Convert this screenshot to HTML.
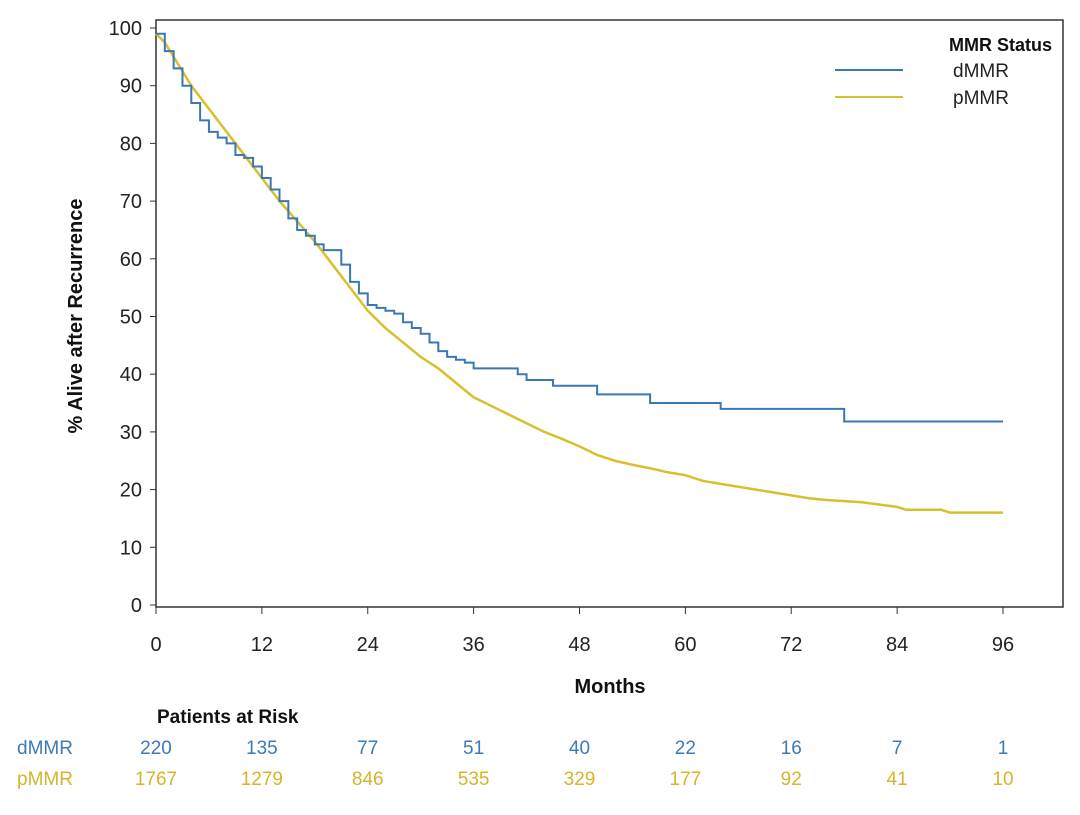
<!DOCTYPE html>
<html><head><meta charset="utf-8"><style>
body{margin:0;background:#fff;}
svg text{font-family:"Liberation Sans",sans-serif;}
</style></head><body>
<svg id="c" width="1080" height="810"></svg>
<script>
const ticksX=[0,12,24,36,48,60,72,84,96];
const ticksY=[0,10,20,30,40,50,60,70,80,90,100];
const dT=[0,1,2,3,4,5,6,7,8,9,10,11,12,13,14,15,16,17,18,19,20,21,22,23,24,25,26,27,28,29,30,31,32,33,34,35,36,40,41,42,44,45,48,50,54,56,64,78,96];
const dS=[99,96,93,90,87,84,82,81,80,78,77.5,76,74,72,70,67,65,64,62.5,61.5,61.5,59,56,54,52,51.5,51,50.5,49,48,47,45.5,44,43,42.5,42,41,41,40,39,39,38,38,36.5,36.5,35,34,31.8,31.8];
const pT=[0,1,2,4,6,8,10,12,14,16,18,20,22,24,26,28,30,32,34,36,38,40,42,44,46,48,50,52,54,56,58,60,62,64,66,68,70,72,74,76,80,84,85,89,90,96];
const pS=[99,97.5,95,90,86,82,78,74,70,66.5,63,59,55,51,48,45.5,43,41,38.5,36,34.5,33,31.5,30,28.8,27.5,26,25,24.3,23.7,23,22.5,21.5,21,20.5,20,19.5,19,18.5,18.2,17.8,17,16.5,16.5,16,16];
const riskD=[220,135,77,51,40,22,16,7,1];
const riskP=[1767,1279,846,535,329,177,92,41,10];
const NS="http://www.w3.org/2000/svg",svg=document.getElementById('c');
const X=m=>156+m*(1003-156)/96, Y=v=>605-v*5.77;
function el(t,a,txt){const e=document.createElementNS(NS,t);for(const k in a)e.setAttribute(k,a[k]);if(txt!==undefined)e.textContent=txt;svg.appendChild(e);return e;}
let f=el('rect',{x:156,y:20,width:907,height:587,fill:'none',stroke:'#333','stroke-width':1.5});


ticksY.forEach(v=>{
 let l=el('line',{x1:150,x2:156,y1:Y(v),y2:Y(v),stroke:'#333'});
 
 
 let t=el('text',{x:142,y:Y(v)+7,'text-anchor':'end','font-size':20,fill:'#222'},v);
 
 
});
ticksX.forEach((m,i)=>{
 let l=el('line',{x1:X(m),x2:X(m),y1:607,y2:614,stroke:'#333'});
 
 
 let t=el('text',{x:X(m),y:651,'text-anchor':'middle','font-size':20,fill:'#222'},m);
 
 
 let a=el('text',{x:X(m),y:754,'text-anchor':'middle','font-size':19,fill:'#3d7ab8'},riskD[i]);
 
 
 let b=el('text',{x:X(m),y:785,'text-anchor':'middle','font-size':19,fill:'#d4b52a'},riskP[i]);
 
 
});
function step(T,S){let d='M'+X(T[0])+','+Y(S[0]);for(let i=1;i<T.length;i++){d+='H'+X(T[i])+'V'+Y(S[i]);}return d;}
function line(T,S){let d='M'+X(T[0])+','+Y(S[0]);for(let i=1;i<T.length;i++){d+='L'+X(T[i])+','+Y(S[i]);}return d;}
let pl=el('path',{d:line(pT,pS),fill:'none',stroke:'#d9bf2b','stroke-width':2.5});


let dl=el('path',{d:step(dT,dS),fill:'none',stroke:'#3a78b5','stroke-width':2});


let yt=el('text',{x:0,y:0,transform:'translate(82,316) rotate(-90)','text-anchor':'middle','font-size':20,'font-weight':'bold',fill:'#111'},'% Alive after Recurrence');


let xt=el('text',{x:610,y:693,'text-anchor':'middle','font-size':20,'font-weight':'bold',fill:'#111'},'Months');


let pr=el('text',{x:157,y:723,'font-size':19,'font-weight':'bold',fill:'#111'},'Patients at Risk');


let rd=el('text',{x:17,y:754,'font-size':19,fill:'#3d7ab8'},'dMMR');


let rp=el('text',{x:17,y:785,'font-size':19,fill:'#d4b52a'},'pMMR');


let lt=el('text',{x:1052,y:51,'text-anchor':'end','font-size':18,'font-weight':'bold',fill:'#111'},'MMR Status');


[['dMMR','#3a78b5',70],['pMMR','#d9bf2b',97]].forEach(([n,c,y])=>{
 let l=el('line',{x1:835,x2:903,y1:y,y2:y,stroke:c,'stroke-width':2});
 
 
 let t=el('text',{x:953,y:y+7,'font-size':19,fill:'#222'},n);
 
 
});
</script>
</body></html>
